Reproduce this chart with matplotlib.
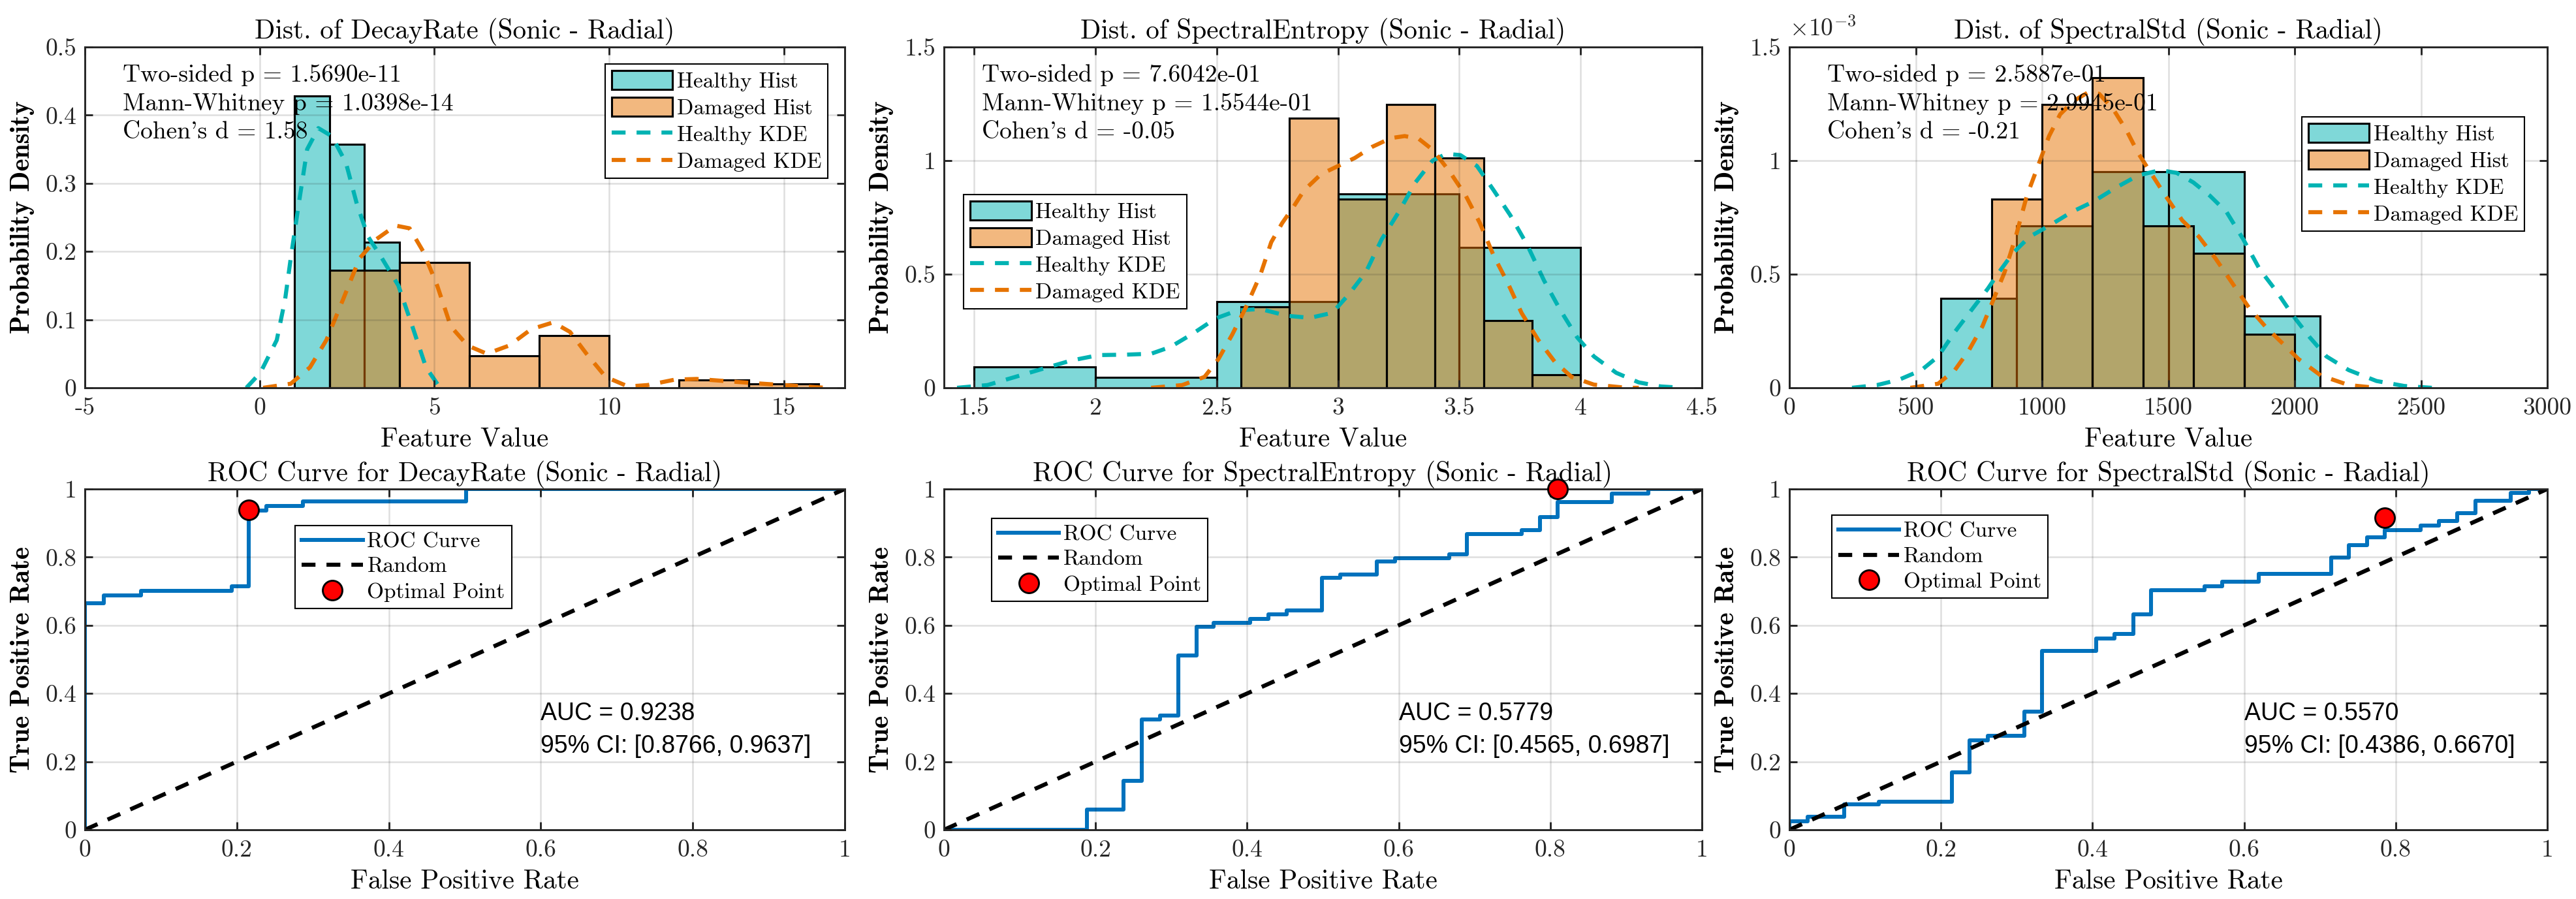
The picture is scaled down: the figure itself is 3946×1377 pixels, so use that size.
import numpy as np
import matplotlib
matplotlib.use('Agg')
import matplotlib.pyplot as plt
from matplotlib.ticker import FuncFormatter, MultipleLocator

plt.rcParams['font.family'] = ['cmr10', 'DejaVu Serif']
plt.rcParams['mathtext.fontset'] = 'cm'
plt.rcParams['axes.unicode_minus'] = False

# ---------------- data ----------------
# DecayRate
dr_h_edges = [1, 2, 3, 4]
dr_h_dens = [0.428, 0.357, 0.214]
dr_d_edges = [2, 4, 6, 8, 10, 12, 14, 16]
dr_d_dens = [0.172, 0.184, 0.047, 0.077, 0.0, 0.0116, 0.0058]
dr_kde_hx = [-0.38, 0.02, 0.49, 0.73, 0.89, 1.12, 1.36, 1.68, 2.07, 2.47, 2.78, 3.1, 3.5, 3.97, 4.37, 4.76, 5.16]
dr_kde_hy = [0, 0.022, 0.07, 0.13, 0.19, 0.27, 0.35, 0.381, 0.369, 0.33, 0.27, 0.222, 0.19, 0.15, 0.09, 0.03, 0]
dr_kde_dx = [0.1, 0.89, 1.44, 1.91, 2.39, 2.86, 3.34, 3.89, 4.29, 4.68, 5.08, 5.47, 5.95, 6.5, 7.14, 7.77,
             8.4, 8.88, 9.35, 9.9, 10.54, 11.1, 11.88, 12.5, 13.3, 14.1, 15.0, 16.2]
dr_kde_dy = [0, 0.006, 0.03, 0.07, 0.13, 0.19, 0.218, 0.238, 0.234, 0.2, 0.15, 0.09, 0.062, 0.05, 0.062, 0.086,
             0.096, 0.082, 0.05, 0.016, 0.002, 0.004, 0.012, 0.013, 0.01, 0.007, 0.004, 0]

# SpectralEntropy
se_h_edges = [1.5, 2.0, 2.5, 3.0, 3.5, 4.0]
se_h_dens = [0.093, 0.0455, 0.38, 0.854, 0.617]
se_d_edges = [2.6, 2.8, 3.0, 3.2, 3.4, 3.6, 3.8, 4.0]
se_d_dens = [0.356, 1.188, 0.83, 1.248, 1.012, 0.297, 0.0575]
se_kde_hx = [1.43, 1.555, 1.67, 1.784, 1.9, 2.014, 2.128, 2.23, 2.31, 2.404, 2.495, 2.587, 2.68, 2.79, 2.885,
             2.977, 3.046, 3.115, 3.18, 3.25, 3.32, 3.39, 3.447, 3.505, 3.573, 3.642, 3.71, 3.78, 3.849,
             3.917, 3.986, 4.055, 4.147, 4.239, 4.33, 4.42]
se_kde_hy = [0, 0.012, 0.048, 0.084, 0.12, 0.144, 0.146, 0.15, 0.18, 0.24, 0.305, 0.341, 0.347, 0.317, 0.308,
             0.33, 0.413, 0.509, 0.653, 0.773, 0.905, 1.0, 1.03, 1.024, 0.976, 0.869, 0.76, 0.629, 0.473,
             0.341, 0.222, 0.138, 0.066, 0.024, 0.006, 0]
se_kde_dx = [2.23, 2.358, 2.45, 2.507, 2.564, 2.62, 2.68, 2.725, 2.77, 2.817, 2.86, 2.93, 3.0, 3.07, 3.14,
             3.218, 3.275, 3.333, 3.39, 3.46, 3.527, 3.585, 3.642, 3.7, 3.757, 3.826, 3.894, 3.963, 4.055, 4.19, 4.24]
se_kde_dy = [0, 0.012, 0.048, 0.126, 0.234, 0.353, 0.497, 0.641, 0.725, 0.797, 0.869, 0.94, 0.976, 1.012, 1.06,
             1.099, 1.108, 1.096, 1.048, 0.952, 0.845, 0.725, 0.581, 0.461, 0.329, 0.21, 0.114, 0.048, 0.014, 0, 0]

# SpectralStd
ss_h_edges = [600, 900, 1200, 1500, 1800, 2100]
ss_h_dens = [0.394e-3, 0.713e-3, 0.95e-3, 0.95e-3, 0.315e-3]
ss_d_edges = [800, 1000, 1200, 1400, 1600, 1800, 2000]
ss_d_dens = [0.83e-3, 1.248e-3, 1.366e-3, 0.713e-3, 0.593e-3, 0.237e-3]
ss_kde_hx = [248, 347, 435, 523, 589, 655, 720, 786, 830, 885, 951, 1028, 1116, 1204, 1291, 1379, 1467, 1533,
             1599, 1665, 1731, 1797, 1862, 1928, 1994, 2060, 2126, 2214, 2324, 2434, 2543]
ss_kde_hy = [0, 0.012e-3, 0.036e-3, 0.078e-3, 0.138e-3, 0.246e-3, 0.341e-3, 0.437e-3, 0.509e-3, 0.593e-3,
             0.665e-3, 0.713e-3, 0.773e-3, 0.82e-3, 0.88e-3, 0.934e-3, 0.958e-3, 0.946e-3, 0.904e-3, 0.845e-3,
             0.773e-3, 0.653e-3, 0.521e-3, 0.425e-3, 0.317e-3, 0.222e-3, 0.138e-3, 0.078e-3, 0.030e-3, 0.008e-3, 0]
ss_kde_dx = [479, 589, 655, 709, 764, 808, 852, 896, 940, 984, 1028, 1072, 1127, 1182, 1226, 1281, 1335, 1379,
             1434, 1489, 1555, 1621, 1687, 1753, 1819, 1884, 1950, 2016, 2104, 2214, 2324]
ss_kde_dy = [0, 0.018e-3, 0.078e-3, 0.162e-3, 0.27e-3, 0.389e-3, 0.509e-3, 0.665e-3, 0.845e-3, 0.976e-3,
             1.108e-3, 1.204e-3, 1.264e-3, 1.3e-3, 1.294e-3, 1.228e-3, 1.132e-3, 1.036e-3, 0.94e-3, 0.845e-3,
             0.737e-3, 0.665e-3, 0.569e-3, 0.461e-3, 0.353e-3, 0.27e-3, 0.198e-3, 0.126e-3, 0.054e-3, 0.012e-3, 0]

# ROC curves (step corners: vertical first, then horizontal)
dr_fpr = [0, 0.025, 0.074, 0.193, 0.216, 0.2385, 0.287, 0.502, 1.0]
dr_tpr = [0, 0.665, 0.687, 0.701, 0.714, 0.9375, 0.951, 0.964, 1.0]
dr_opt = (0.216, 0.939)

se_fpr = [0, 0.189, 0.237, 0.261, 0.285, 0.309, 0.333, 0.356, 0.404, 0.428, 0.452, 0.499, 0.523, 0.571,
          0.595, 0.667, 0.69, 0.762, 0.786, 0.81, 0.881, 0.929, 1.0]
se_tpr = [0, 0, 0.059, 0.143, 0.324, 0.336, 0.512, 0.596, 0.607, 0.619, 0.632, 0.644, 0.739, 0.75,
          0.787, 0.797, 0.809, 0.867, 0.880, 0.918, 0.9625, 0.987, 1.0]
se_opt = (0.81, 1.0)

ss_fpr = [0, 0.024, 0.072, 0.118, 0.2145, 0.238, 0.262, 0.31, 0.333, 0.405, 0.429, 0.454, 0.477, 0.548,
          0.571, 0.619, 0.7145, 0.738, 0.762, 0.7855, 0.833, 0.857, 0.881, 0.905, 0.952, 0.976, 1.0]
ss_tpr = [0, 0.025, 0.038, 0.074, 0.083, 0.168, 0.262, 0.275, 0.346, 0.525, 0.561, 0.574, 0.632, 0.704,
          0.715, 0.728, 0.751, 0.799, 0.835, 0.858, 0.880, 0.893, 0.906, 0.929, 0.965, 0.988, 1.0]
ss_opt = (0.7855, 0.915)

features = ['DecayRate', 'SpectralEntropy', 'SpectralStd']
stats_txt = [
    "Two-sided p = 1.5690e-11\nMann-Whitney p = 1.0398e-14\nCohen's d = 1.58",
    "Two-sided p = 7.6042e-01\nMann-Whitney p = 1.5544e-01\nCohen's d = -0.05",
    "Two-sided p = 2.5887e-01\nMann-Whitney p = 2.9945e-01\nCohen's d = -0.21",
]
auc_txt = [
    "AUC = 0.9238\n95% CI: [0.8766, 0.9637]",
    "AUC = 0.5779\n95% CI: [0.4565, 0.6987]",
    "AUC = 0.5570\n95% CI: [0.4386, 0.6670]",
]

# ---------------- style ----------------
HEALTHY_FACE = (0.0, 0.7, 0.7, 0.5)
DAMAGED_FACE = (0.9, 0.45, 0.0, 0.5)
HEALTHY_LINE = (0.0, 0.7, 0.7)
DAMAGED_LINE = (0.9, 0.45, 0.0)
ROC_BLUE = '#0072BD'
AX_COLOR = '#262626'
DASH = (0, (3.4, 2.7))

FS = 9          # axes font
FS_T = 9.9      # titles / labels
FS_L = 8        # legends

W, H = 3946, 1377
fig = plt.figure(figsize=(W / 300, H / 300), dpi=300)

col_left = [130, 1446, 2741]
col_w = [1164, 1161, 1161]
row_top = [72, 749]
row_h = 522


def make_ax(col, row):
    l = col_left[col] / W
    b = 1 - (row_top[row] + row_h) / H
    return fig.add_axes([l, b, col_w[col] / W, row_h / H])


def style_axes(ax):
    for s in ax.spines.values():
        s.set_linewidth(0.7)
        s.set_color(AX_COLOR)
    ax.tick_params(direction='in', length=2.8, width=0.7, top=True, right=True,
                   colors=AX_COLOR, labelsize=FS)
    ax.tick_params(axis='x', pad=3.5)
    ax.tick_params(axis='y', pad=3)
    ax.grid(True, color=(0.15, 0.15, 0.15), alpha=0.15, linewidth=0.6)
    ax.set_axisbelow(False)


def gfmt(scale=1.0):
    return FuncFormatter(lambda v, p: f'{v * scale:g}')


def add_legend(ax, handles, labels, loc, anchor, hh=0.7):
    leg = ax.legend(handles, labels, loc=loc, bbox_to_anchor=anchor, fontsize=FS_L,
                    fancybox=False, framealpha=1, edgecolor='k', handlelength=2.8,
                    handleheight=hh, handletextpad=0.2, labelspacing=0.28,
                    borderpad=0.3, borderaxespad=0)
    leg.get_frame().set_linewidth(0.5)
    return leg


hist_sets = [
    (dr_h_edges, dr_h_dens, dr_d_edges, dr_d_dens, dr_kde_hx, dr_kde_hy, dr_kde_dx, dr_kde_dy),
    (se_h_edges, se_h_dens, se_d_edges, se_d_dens, se_kde_hx, se_kde_hy, se_kde_dx, se_kde_dy),
    (ss_h_edges, ss_h_dens, ss_d_edges, ss_d_dens, ss_kde_hx, ss_kde_hy, ss_kde_dx, ss_kde_dy),
]
xlims = [(-5, 16.74), (1.376, 4.5), (0, 3000)]
xsteps = [5, 0.5, 500]
ylims = [(0, 0.5), (0, 1.5), (0, 1.5e-3)]
ysteps = [0.1, 0.5, 0.5e-3]
hist_leg = [('upper right', (0.978, 0.95)), ('upper left', (0.026, 0.567)), ('upper right', (0.97, 0.795))]

for i, (he, hd, de, dd, hx, hy, dx, dy) in enumerate(hist_sets):
    ax = make_ax(i, 0)
    style_axes(ax)
    hb = ax.bar(he[:-1], hd, width=np.diff(he), align='edge', facecolor=HEALTHY_FACE,
                edgecolor='k', linewidth=0.75)
    db = ax.bar(de[:-1], dd, width=np.diff(de), align='edge', facecolor=DAMAGED_FACE,
                edgecolor='k', linewidth=0.75)
    hl, = ax.plot(hx, hy, color=HEALTHY_LINE, lw=1.5, ls=DASH)
    dl, = ax.plot(dx, dy, color=DAMAGED_LINE, lw=1.5, ls=DASH)
    ax.set_xlim(*xlims[i])
    ax.set_ylim(*ylims[i])
    ax.xaxis.set_major_locator(MultipleLocator(xsteps[i]))
    ax.yaxis.set_major_locator(MultipleLocator(ysteps[i]))
    ax.xaxis.set_major_formatter(gfmt())
    ax.yaxis.set_major_formatter(gfmt(1e3 if i == 2 else 1.0))
    if i == 2:
        ax.text(0.0, 1.02, r'$\times10^{-3}$', transform=ax.transAxes, ha='left', va='bottom',
                fontsize=FS, color=AX_COLOR)
    ax.set_title(f'Dist. of {features[i]} (Sonic - Radial)', fontsize=FS_T, pad=3)
    ax.set_xlabel('Feature Value', fontsize=FS_T, labelpad=3)
    ax.set_ylabel('Probability Density', fontsize=FS_T, family='cmb10', labelpad=4)
    ax.text(0.05, 0.95, stats_txt[i], transform=ax.transAxes, ha='left', va='top',
            fontsize=FS, linespacing=1.4)
    loc, anchor = hist_leg[i]
    add_legend(ax, [hb, db, hl, dl], ['Healthy Hist', 'Damaged Hist', 'Healthy KDE', 'Damaged KDE'],
               loc, anchor, hh=0.95)

roc_sets = [(dr_fpr, dr_tpr, dr_opt), (se_fpr, se_tpr, se_opt), (ss_fpr, ss_tpr, ss_opt)]
roc_leg = [(0.277, 0.893), (0.063, 0.914), (0.056, 0.923)]

for i, (fpr, tpr, opt) in enumerate(roc_sets):
    ax = make_ax(i, 1)
    style_axes(ax)
    rl, = ax.plot(fpr, tpr, color=ROC_BLUE, lw=1.45, drawstyle='steps-pre')
    rd, = ax.plot([0, 1], [0, 1], color='k', lw=1.5, ls=DASH)
    op, = ax.plot([opt[0]], [opt[1]], 'o', color='red', markeredgecolor='k', markersize=7.2,
                  markeredgewidth=0.7, clip_on=False, zorder=5)
    ax.set_xlim(0, 1)
    ax.set_ylim(0, 1)
    ax.xaxis.set_major_locator(MultipleLocator(0.2))
    ax.yaxis.set_major_locator(MultipleLocator(0.2))
    ax.xaxis.set_major_formatter(gfmt())
    ax.yaxis.set_major_formatter(gfmt())
    ax.set_title(f'ROC Curve for {features[i]} (Sonic - Radial)', fontsize=FS_T, pad=3)
    ax.set_xlabel('False Positive Rate', fontsize=FS_T, labelpad=3)
    ax.set_ylabel('True Positive Rate', fontsize=FS_T, family='cmb10', labelpad=4)
    ax.text(0.6, 0.293, auc_txt[i], ha='left', va='center', fontsize=FS,
            family='Liberation Sans', linespacing=1.5)
    add_legend(ax, [rl, rd, op], ['ROC Curve', 'Random', 'Optimal Point'], 'upper left', roc_leg[i])

fig.savefig('out.png', dpi=300)
